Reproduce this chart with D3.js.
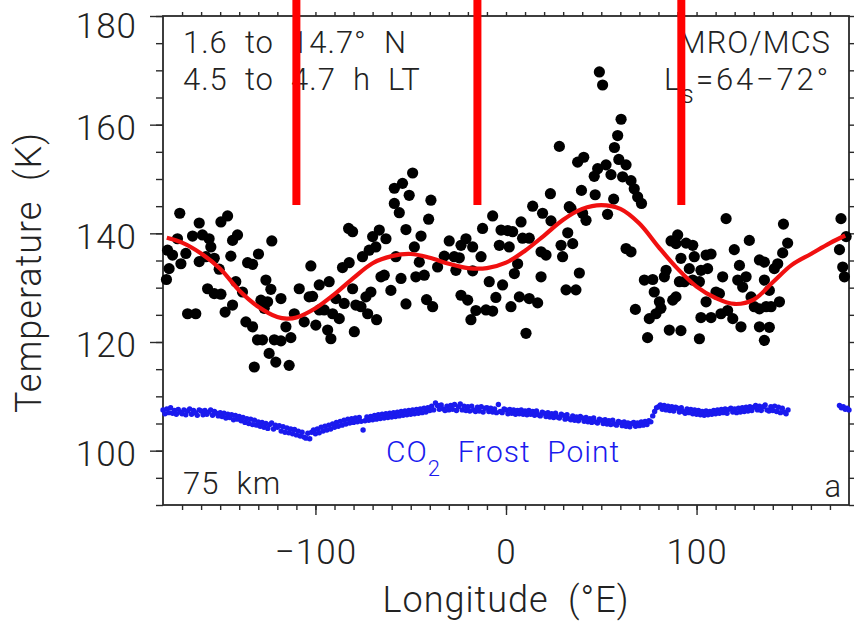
<!DOCTYPE html>
<html>
<head>
<meta charset="utf-8">
<script src="https://cdn.jsdelivr.net/npm/d3@7"></script>
<style>
  body { margin: 0; background: #fff; }
  svg text { font-family: Roboto, "Liberation Sans", sans-serif; font-weight: 300; }
</style>
</head>
<body>
<div class="svg-container"></div>
<script>
// MCS temperatures at 75 km: [longitude (°E), temperature (K)]
const observations = [
  [-171.2,143.7],[-177.6,136.9],[-175,136],[-176.8,133.5],[-178.2,131.5],[-172.4,139.0],[-170.6,134.4],[-168,136.3],
  [-164.5,139.5],[-161,141.9],[-159.3,139.7],[-155.8,139.0],[-154.9,137.5],[-161,134.8],[-157.5,135.7],[-153.1,135.4],
  [-150.5,133.4],[-156.6,129.8],[-153.1,128.9],[-149.6,128.8],[-167.1,125.2],[-162.8,125.2],[-149.6,142.1],[-146.1,143.2],
  [-144.4,135.8],[-143.5,138.7],[-140.9,139.7],[-147.4,125.5],[-143.5,126.8],[-141.8,131.1],[-138.3,129.2],[-136.5,123.7],
  [-133,122.8],[-135.6,134.6],[-133,134.3],[-129.9,136.2],[-122.9,138.6],[-126,131.4],[-123.4,129.7],[-128.6,127.7],
  [-125.1,127.4],[-126.9,126.2],[-130.4,120.4],[-127.8,120.4],[-121.6,120.4],[-118.1,120.2],[-132.1,115.4],[-124.3,117.9],
  [-120.8,116.3],[-113.8,115.7],[-118.1,128.0],[-115.5,122.8],[-112.9,120.8],[-111.1,125.2],[-108.5,129.8],[-102.4,134.0],
  [-105.9,123.7],[-103.3,128.3],[-101.5,128.4],[-99.8,123.1],[-98,130.5],[-98,125.9],[-95.4,125.9],[-93.6,122.2],
  [-91.9,120.6],[-92.8,131.1],[-89.3,128.0],[-91,125.2],[-87.5,124.3],[-85.8,133.7],[-82.3,134.6],[-84.9,127.1],
  [-80.5,129.8],[-82.6,140.9],[-80.5,140.3],[-79.6,121.9],[-78.8,126.8],[-75.3,135.7],[-76.1,126.5],[-72.6,125.2],
  [-71.8,136.9],[-73.5,128.3],[-70.9,129.2],[-68.3,137.5],[-70,139.4],[-66.5,140.6],[-67.9,124.1],[-63,139.0],
  [-65.6,132],[-63.9,132.3],[-60.4,129.5],[-57.8,135.7],[-58.6,148.3],[-54.3,149.2],[-49,151.1],[-58.6,145.5],
  [-56,143.8],[-50.8,147.0],[-55.1,131.7],[-52.5,140.7],[-52.5,127.0],[-48.1,137.5],[-47.3,132.0],[-44.6,139.5],
  [-42.9,132.3],[-45.5,134.7],[-39.4,146.1],[-40.6,142.6],[-41.7,127.8],[-38.5,126.5],[-35.9,133.8],[-32.4,135.8],
  [-29.8,138.6],[-27.2,135.7],[-24.5,135.5],[-26.3,133.2],[-23.6,128.6],[-20.1,127.7],[-23.6,137.8],[-21,139.0],
  [-17.5,137.5],[-17.5,133.1],[-15.8,125.8],[-18.4,124.1],
  [49,169.7],[50.7,167.3],[60.4,161],[58.6,158],[56.9,155.8],[28,156],[37.6,153.1],[40.8,154],
  [46.3,150.5],[48.1,151.9],[52.5,152.6],[55.1,150.8],[59.2,153.6],[63,152.6],[61.2,150.4],[65.6,149.7],
  [67.3,148.2],[69.1,146.7],[71.1,145.5],[23.3,147.3],[39.6,147.9],[46.8,147.1],[56.5,146.3],[53.3,143.5],
  [42,142.4],[40.2,143.7],[33.2,144.9],[19.2,143.7],[14,145],[7.9,142.1],[0.9,140.5],[-2.6,140.6],
  [3.5,140.3],[-7,143.2],[-12.3,140.9],[-13.1,135.7],[-8.8,131.1],[-3.5,137.8],[1.7,137.5],[6.1,134.4],
  [4.4,132.6],[-1.8,130.5],[-5.3,128.2],[-10.5,125.9],[-7,125.7],[2.6,126.5],[7,128.3],[12.2,128],
  [16.6,127.2],[10.5,121.6],[8.7,139.1],[12.2,139.1],[18.4,136.6],[21,136],[18.4,132],[23.6,142.3],
  [29.7,135.7],[28.9,137.8],[32.4,140.1],[35,138.1],[38.5,132.7],[31.5,129.6],[36.7,129.6],[34.1,144.6],
  [63,137.2],[65.6,136.6],[67.9,126],[72.6,131.4],[77,131.5],[77.8,129.2],[75.2,124.3],[74.3,120.8],
  [78.7,125.2],[81.3,126.2],[80.5,127.4],[84,133.2],[83.1,132],[86.6,138.6],[90.1,139.7],[89.2,138.1],
  [91.8,135.4],[91,131.1],[89.2,128.3],[87.5,127.7],[85.7,122.2],[91.8,122.1],[94.5,138.2],[98,137.8],
  [98.8,135.7],[96.2,133.5],[98,131.4],[93.6,131.1],[101.5,131.1],[102.3,133.2],[101.5,120.6],[105,136],
  [107.6,136.2],[105.8,133.5],[105,127.4],[102.3,124.5],[107.6,124.5],[110.2,129.2],[112,128.9],[113.7,132],
  [115.5,142.7],[112.8,125.2],[116.3,125.8],[119,124.3],[123.3,122.8],[119.8,137],[122.5,134.1],[126,132],
  [121.6,131.4],[124.2,130.1],[127.7,138.7],[128.6,128.3],[130.3,126.5],[133,135.1],[135.6,134.7],[135.6,131.4],
  [138.2,129.5],[133,126.1],[136.5,126.5],[139.1,126.5],[143.5,127.4],[133,122.8],[138.2,122.7],[135.6,120.3],
  [140.8,133.5],[142.6,134.4],[145.2,136.4],[147.8,138.2],[145.6,141.7],[175.8,142.7],[175,137],[176.7,133.8],
  [177.6,132],[178.5,139.4]
];

// smooth wave fit (red)
const fitLon  = [-178,-170,-160,-150,-140,-130,-120,-115,-110,-100,-90,-80,-70,-60,-50,-40,-30,-20,-10,0,
                 10,20,30,40,50,60,70,80,90,100,110,120,130,140,150,160,170,178];
const fitTemp = [139.2,138.3,136.3,133.5,129.5,126.5,124.6,124.3,124.5,126.2,128.8,131.8,134.5,135.8,136.2,135.5,134.4,133.6,133.6,134.6,
                 136.8,139.6,142.5,144.5,145.2,144.5,141.8,137.5,133.5,130.2,128.1,127.0,127.8,131.0,134.2,136.2,138.2,139.6];

// CO2 frost point, one value per degree starting at -180 °E
const frostStart = -180;
const frostTemp = [
  107.5,106.8,107.7,107.0,107.9,106.9,107.4,106.7,107.6,107.1,
  106.8,107.5,106.6,107.3,107.7,106.7,107.4,107.0,106.5,107.5,
  107.3,106.6,107.4,106.7,107.1,107.5,106.5,107.2,106.9,106.4,
  107.0,106.3,106.9,106.0,106.7,106.1,106.6,105.7,106.5,105.8,
  106.3,105.5,106.1,105.2,105.9,105.0,105.8,104.8,105.6,104.7,
  105.3,104.5,105.2,104.3,105.0,104.1,104.8,105.1,104.0,104.7,
  104.3,104.6,103.6,104.4,103.4,104.2,103.3,104.0,103.1,103.9,
  102.9,103.6,102.7,103.4,102.5,102.3,103.2,102.2,103.4,103.8,
  103.1,104.0,103.3,104.3,103.6,104.5,103.8,104.7,104.0,104.9,
  104.3,105.2,104.5,105.4,104.7,105.6,104.9,105.8,105.1,105.9,
  105.2,106.0,105.3,106.1,105.4,103.8,105.5,106.2,105.6,106.3,
  105.7,106.5,105.8,106.6,105.9,106.7,106.0,106.8,106.1,106.9,
  106.2,107.0,106.3,107.1,106.4,107.2,106.5,107.3,106.6,107.4,
  106.7,107.5,106.8,107.6,106.9,107.7,107.0,107.8,107.1,107.9,
  107.4,108.2,107.5,108.8,108.3,107.6,108.4,107.7,107.4,108.2,
  107.5,108.3,107.6,108.5,107.4,108.1,108.6,107.5,108.2,107.4,
  108.1,107.3,108.2,107.5,107.2,108.0,107.3,108.1,107.1,107.8,
  107.9,107.2,107.8,107.1,107.7,107.0,108.5,107.2,107.0,107.7,
  107.5,106.8,107.6,106.9,107.5,106.7,107.4,106.8,107.5,106.7,
  107.3,106.6,107.4,106.7,107.2,106.5,107.3,106.6,106.4,107.1,
  106.9,106.3,107.0,106.2,106.8,106.1,106.9,106.2,106.0,106.7,
  106.5,105.8,106.6,105.9,105.7,106.4,105.6,106.2,105.5,106.3,
  106.0,105.4,106.1,105.3,105.9,105.2,106.0,105.3,105.1,105.8,
  105.6,105.0,105.7,104.9,105.5,104.8,105.6,104.9,104.7,105.4,
  105.2,104.6,105.3,104.5,105.1,104.4,105.0,105.2,104.5,105.1,
  104.6,105.3,104.7,105.4,104.8,105.5,105.3,106.4,107.2,107.9,
  108.1,108.4,107.6,108.3,107.5,108.2,107.4,108.1,107.3,108.0,
  107.8,107.1,107.9,107.2,106.9,107.7,107.0,107.6,106.8,107.5,
  106.7,107.4,106.6,107.2,106.5,107.3,106.6,107.2,106.7,107.4,
  106.8,107.5,106.9,107.6,107.0,107.7,106.9,107.6,107.8,107.1,
  107.7,107.0,107.8,107.1,107.9,107.2,108.0,107.3,108.1,107.4,
  108.0,108.3,107.5,108.2,107.4,108.1,108.4,107.5,107.3,108.1,
  107.4,108.2,107.2,108.0,107.0,107.8,107.1,106.8,107.5
];
const frostTail = [[175,108.3],[176,107.9],[177,108.1],[178,107.6],[179,107.8],[180,107.5]];

// red marker bars
const barLon = [-110, -15, 92];
const barTemp = [145.2, 183];

const xTicks = [-100, 0, 100];
const xMinor = d3.range(-170, 180, 10);
const yTicks = [100, 120, 140, 160, 180];
const yMinor = d3.range(90, 181, 5);

const width = 854;
const height = 623;
const margin = { top: 16, right: 5, bottom: 118, left: 163 };

const svg = d3.select('.svg-container')
  .append('svg')
  .attr('width', width)
  .attr('height', height)

const x = d3.scaleLinear()
  .domain([-180, 180])
  .range([margin.left, width - margin.right])

const y = d3.scaleLinear()
  .domain([90, 180])
  .range([height - margin.bottom, margin.top])

const fmt = (d) => d < 0 ? '\u2212' + Math.abs(d) : String(d);
const axisColor = '#2a2a2a';
const ink = '#222';
const blue = '#1a1aee';

function styleAxis(g) {
  g.select('.domain').remove();
  g.selectAll('line').attr('stroke', axisColor).attr('stroke-width', 1.4);
  g.selectAll('text').attr('font-size', 35).attr('fill', ink)
    .attr('font-family', null).attr('letter-spacing', 1);
}

// bottom axis
svg.append('g')
  .attr('transform', `translate(0, ${y(90)})`)
  .call(d3.axisBottom(x).tickValues(xMinor).tickSize(5).tickFormat(''))
  .call(styleAxis)
svg.append('g')
  .attr('transform', `translate(0, ${y(90)})`)
  .call(d3.axisBottom(x).tickValues(xTicks).tickSize(10).tickPadding(24).tickFormat(fmt))
  .call(styleAxis)

// top axis
svg.append('g')
  .attr('transform', `translate(0, ${y(180)})`)
  .call(d3.axisTop(x).tickValues(xMinor).tickSize(4).tickFormat(''))
  .call(styleAxis)

// left axis
svg.append('g')
  .attr('transform', `translate(${x(-180)}, 0)`)
  .call(d3.axisLeft(y).tickValues(yMinor).tickSize(7).tickFormat(''))
  .call(styleAxis)
svg.append('g')
  .attr('transform', `translate(${x(-180)}, 0)`)
  .call(d3.axisLeft(y).tickValues(yTicks).tickSize(13).tickPadding(13).tickFormat(fmt))
  .call(styleAxis)
  .selectAll('text').attr('dy', (d) => d === 180 ? '0.62em' : '0.42em')

// right axis
svg.append('g')
  .attr('transform', `translate(${x(180)}, 0)`)
  .call(d3.axisRight(y).tickValues(yMinor).tickSize(5).tickFormat(''))
  .call(styleAxis)

// frame
svg.append('rect')
  .attr('x', x(-180))
  .attr('y', y(180))
  .attr('width', x(180) - x(-180))
  .attr('height', y(90) - y(180))
  .attr('fill', 'none')
  .attr('stroke', axisColor)
  .attr('stroke-width', 1.8)

// observations
svg.append('g')
  .selectAll('circle')
  .data(observations)
  .join('circle')
  .attr('cx', (d) => x(d[0]))
  .attr('cy', (d) => y(d[1]))
  .attr('r', 5.6)
  .attr('fill', '#000')

// frost point
const frost = frostTemp.map((t, i) => [frostStart + i, t]).concat(frostTail);
svg.append('g')
  .selectAll('circle')
  .data(frost)
  .join('circle')
  .attr('cx', (d) => x(d[0]))
  .attr('cy', (d) => y(d[1]))
  .attr('r', 2.7)
  .attr('fill', blue)

// fit line
const line = d3.line()
  .x((d) => x(d[0]))
  .y((d) => y(d[1]))
  .curve(d3.curveCatmullRom)

svg.append('path')
  .datum(fitLon.map((lon, i) => [lon, fitTemp[i]]))
  .attr('d', line)
  .attr('fill', 'none')
  .attr('stroke', '#f01010')
  .attr('stroke-width', 4.2)

// annotations
function label(txt, px, py, anchor, size, color) {
  return svg.append('text')
    .attr('x', px)
    .attr('y', py)
    .attr('text-anchor', anchor || 'start')
    .attr('font-size', size)
    .attr('fill', color || ink)
    .attr('letter-spacing', 1)
    .attr('xml:space', 'preserve')
    .text(txt)
}

label('1.6  to  14.7°  N', 183, 53, 'start', 31);
label('4.5  to  4.7  h  LT', 183, 90, 'start', 31);
label('MRO/MCS', 831, 53, 'end', 31);
label('L', 664, 90, 'start', 31);
label('s', 681, 103, 'start', 25);
label('=64\u221272°', 831, 90, 'end', 31).attr('letter-spacing', 2.8);

label('75  km', 183, 494, 'start', 31);
label('a', 842, 497, 'end', 31);

const co2 = label('', 386, 462, 'start', 30, blue);
co2.append('tspan').text('CO');
co2.append('tspan').attr('font-size', 22).attr('dy', 14).text('2');
co2.append('tspan').attr('dy', -14).text('  Frost  Point');

// axis titles
label('Longitude  (°E)', (x(-180) + x(180)) / 2, 612, 'middle', 36);
label('Temperature  (K)', 0, 0, 'middle', 36)
  .attr('transform', `translate(41, ${(y(90) + y(180)) / 2 + 12}) rotate(-90)`)

// red marker bars
svg.append('g')
  .selectAll('line')
  .data(barLon)
  .join('line')
  .attr('x1', (d) => x(d))
  .attr('x2', (d) => x(d))
  .attr('y1', y(barTemp[0]))
  .attr('y2', y(barTemp[1]))
  .attr('stroke', '#ff0000')
  .attr('stroke-width', 8)
</script>
</body>
</html>
